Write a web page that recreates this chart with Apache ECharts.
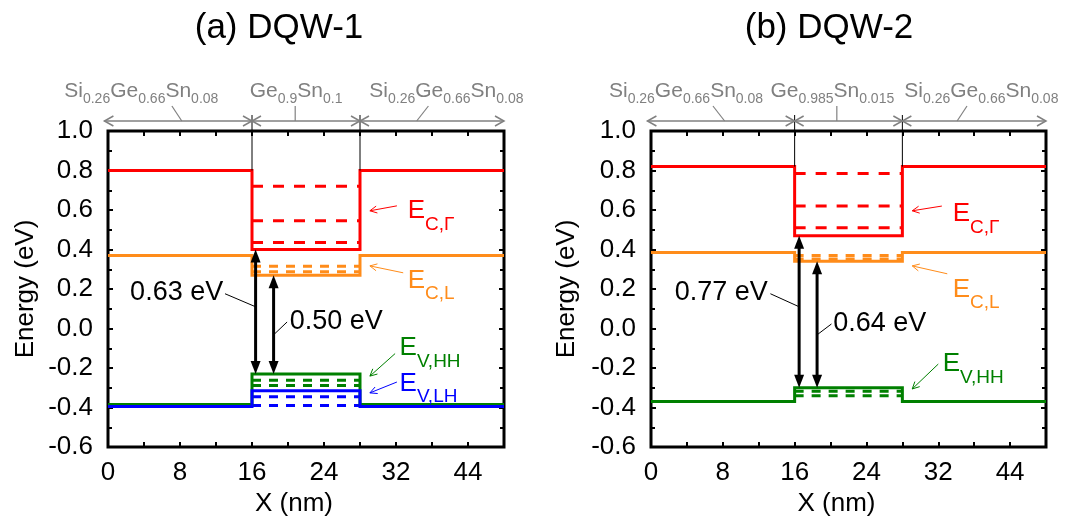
<!DOCTYPE html>
<html>
<head>
<meta charset="utf-8">
<script src="https://cdn.jsdelivr.net/npm/echarts@6/dist/echarts.min.js"></script>
<style>
html, body { margin: 0; padding: 0; background: #ffffff; }
#chart { width: 1086px; height: 522px; }
</style>
</head>
<body>
<div id="chart"></div>
<script>
// ---- data -------------------------------------------------------------
// layer boundaries along the growth direction (nm): barrier | well | barrier
const layerEdges = [0, 16, 28, 44];
const xTickLabels = ['0', '8', '16', '24', '32', '44'];

// band names (drawn as E with subscript)
const bandSubs = ['C,\u0393', 'C,L', 'V,HH', 'V,LH'];

// DQW-1: band edges in barrier / well (eV) and confined levels in the well
const dqw1BarrierE = [0.80, 0.37, -0.385, -0.395];
const dqw1WellE = [0.40, 0.27, -0.23, -0.315];
const dqw1LevelsCG = [0.72, 0.545, 0.435];
const dqw1LevelsCL = [0.315, 0.287];
const dqw1LevelsHH = [-0.262, -0.288];
const dqw1LevelsLH = [-0.345, -0.39];

// DQW-2
const dqw2BarrierE = [0.82, 0.385, -0.37];
const dqw2WellE = [0.47, 0.34, -0.30];
const dqw2LevelsCG = [0.785, 0.62, 0.51];
const dqw2LevelsCL = [0.37, 0.352];
const dqw2LevelsHH = [-0.318, -0.34];

// layer compositions: [element, fraction, element, fraction, ...]
const dqw1Layers = [
  ['Si', '0.26', 'Ge', '0.66', 'Sn', '0.08'],
  ['Ge', '0.9', 'Sn', '0.1'],
  ['Si', '0.26', 'Ge', '0.66', 'Sn', '0.08']
];
const dqw2Layers = [
  ['Si', '0.26', 'Ge', '0.66', 'Sn', '0.08'],
  ['Ge', '0.985', 'Sn', '0.015'],
  ['Si', '0.26', 'Ge', '0.66', 'Sn', '0.08']
];

const panelTitles = ['(a) DQW-1', '(b) DQW-2'];

// ---- styling ------------------------------------------------------------
const FONT = "'Liberation Sans', Arial, Helvetica, sans-serif";
const bandColors = ['#ff0000', '#ff8c1a', '#008000', '#0000ff'];
const GRAY = '#808080';

// panel annotation placement (data units of each panel)
const panelLayout = [
  {
    grid: { left: 108, top: 131, width: 396, height: 321 },
    titleX: 279,
    gapX: [16.4, 18.4],
    gapText: [
      { x: 12.8, y: 0.182, align: 'right', leader: [[13.0, 0.176], [16.4, 0.11]] },
      { x: 20.2, y: 0.033, align: 'left', leader: [[19.9, 0.033], [18.4, -0.032]] }
    ],
    bandLabel: [
      { x: 33.3, y: 0.596, from: [32.1, 0.621], to: [29.1, 0.596] },
      { x: 33.3, y: 0.242, from: [32.8, 0.282], to: [29.1, 0.317] },
      { x: 32.4, y: -0.100, from: [31.9, -0.127], to: [29.1, -0.241] },
      { x: 32.4, y: -0.278, from: [32.1, -0.271], to: [29.1, -0.326] }
    ],
    layerTextX: [3.7, 20.9, 37.6],
    layerLeader: [[7.1, 8.2], [20.8, 20.8], [35.6, 34.3]],
    spanLeft: -0.4,
    yNameGap: 69
  },
  {
    grid: { left: 651, top: 131, width: 395, height: 321 },
    titleX: 829,
    gapX: [16.5, 18.5],
    gapText: [
      { x: 13.0, y: 0.182, align: 'right', leader: [[13.3, 0.176], [16.5, 0.11]] },
      { x: 20.3, y: 0.023, align: 'left', leader: [[20.1, 0.023], [18.5, -0.032]] }
    ],
    bandLabel: [
      { x: 33.6, y: 0.58, from: [32.4, 0.62], to: [29.1, 0.596] },
      { x: 33.6, y: 0.197, from: [33.0, 0.277], to: [29.1, 0.317] },
      { x: 32.5, y: -0.18, from: [32.0, -0.18], to: [29.1, -0.306] }
    ],
    layerTextX: [3.9, 20.2, 36.8],
    layerLeader: [[6.9, 8.2], [20.7, 20.7], [35.2, 34.1]],
    spanLeft: -0.4,
    yNameGap: 71
  }
];

const panels = [
  {
    barrier: dqw1BarrierE, well: dqw1WellE,
    levels: [dqw1LevelsCG, dqw1LevelsCL, dqw1LevelsHH, dqw1LevelsLH],
    layers: dqw1Layers
  },
  {
    barrier: dqw2BarrierE, well: dqw2WellE,
    levels: [dqw2LevelsCG, dqw2LevelsCL, dqw2LevelsHH],
    layers: dqw2Layers
  }
];

// ---- helpers ------------------------------------------------------------
function profile(b, w) {
  return [
    [layerEdges[0], b], [layerEdges[1], b], [layerEdges[1], w],
    [layerEdges[2], w], [layerEdges[2], b], [layerEdges[3], b]
  ];
}
function fmtY(v) {
  if (Math.abs(v) < 1e-9) return '0.0';
  return v.toFixed(1);
}

// ---- axes / series --------------------------------------------------------
const grids = [], xAxes = [], yAxes = [], series = [];

panels.forEach(function (p, i) {
  const L = panelLayout[i];
  grids.push(Object.assign({ show: true, borderColor: '#000', borderWidth: 3, backgroundColor: 'transparent' }, L.grid));

  const tickStyle = { show: true, inside: true, length: 5, lineStyle: { color: '#000', width: 2 } };
  const noLine = { show: false, onZero: false };
  // bottom x axis with labels
  xAxes.push({
    type: 'value', gridIndex: i, min: layerEdges[0], max: layerEdges[3], interval: 4,
    position: 'bottom',
    axisLine: noLine, splitLine: { show: false }, axisTick: tickStyle,
    axisLabel: {
      margin: 13, color: '#000', fontFamily: FONT, fontSize: 26,
      showMinLabel: true, showMaxLabel: true,
      formatter: function (v) {
        const k = Math.round(v / 8);
        return (Math.abs(v - k * 8) < 1e-6 && k < xTickLabels.length) ? xTickLabels[k] : '';
      }
    },
    name: 'X (nm)', nameLocation: 'middle', nameGap: 44,
    nameTextStyle: { color: '#000', fontFamily: FONT, fontSize: 26, padding: [0, 24, 0, 0] }
  });
  // top mirror axis (ticks only)
  xAxes.push({
    type: 'value', gridIndex: i, min: layerEdges[0], max: layerEdges[3], interval: 4,
    position: 'top',
    axisLine: noLine, splitLine: { show: false }, axisTick: tickStyle,
    axisLabel: { show: false }
  });
  // left y axis
  yAxes.push({
    type: 'value', gridIndex: i, min: -0.6, max: 1.0, interval: 0.2,
    position: 'left',
    axisLine: noLine, splitLine: { show: false }, axisTick: tickStyle,
    minorTick: { show: true, splitNumber: 2, length: 4, lineStyle: { color: '#000', width: 2 } },
    axisLabel: { margin: 15, color: '#000', fontFamily: FONT, fontSize: 26, formatter: fmtY },
    name: 'Energy (eV)', nameLocation: 'middle', nameGap: L.yNameGap,
    nameTextStyle: { color: '#000', fontFamily: FONT, fontSize: 26 }
  });
  // right mirror axis
  yAxes.push({
    type: 'value', gridIndex: i, min: -0.6, max: 1.0, interval: 0.2,
    position: 'right',
    axisLine: noLine, splitLine: { show: false }, axisTick: tickStyle,
    minorTick: { show: true, splitNumber: 2, length: 4, lineStyle: { color: '#000', width: 2 } },
    axisLabel: { show: false }
  });

  const xi = i * 2, yi = i * 2;
  p.barrier.forEach(function (b, k) {
    const color = bandColors[k];
    // confined levels inside the well
    p.levels[k].forEach(function (lv) {
      series.push({
        type: 'line', xAxisIndex: xi, yAxisIndex: yi, symbol: 'none', silent: true,
        data: [[layerEdges[1], lv], [layerEdges[2], lv]],
        lineStyle: { color: color, width: 3, type: k === 0 ? [11, 10] : [9, 8], cap: 'butt' },
        z: 2
      });
    });
    // band-edge profile
    series.push({
      type: 'line', xAxisIndex: xi, yAxisIndex: yi, symbol: 'none', silent: true,
      data: profile(b, p.well[k]),
      lineStyle: { color: color, width: 3, join: 'miter', cap: 'butt' },
      z: 3
    });
  });
});

const chart = echarts.init(document.getElementById('chart'), null, { renderer: 'canvas' });
chart.setOption({
  animation: false,
  backgroundColor: '#ffffff',
  grid: grids, xAxis: xAxes, yAxis: yAxes, series: series
});

// ---- annotations (positioned through the axes) ------------------------------
const els = [];
function P(g, x, y) { return chart.convertToPixel({ gridIndex: g }, [x, y]); }
function seg(a, b, color, w) {
  els.push({ type: 'line', silent: true, z: 100,
    shape: { x1: a[0], y1: a[1], x2: b[0], y2: b[1] },
    style: { stroke: color, lineWidth: w } });
}
function head(tip, from, color, len, half, filled, w) {
  const dx = tip[0] - from[0], dy = tip[1] - from[1];
  const d = Math.hypot(dx, dy), ux = dx / d, uy = dy / d;
  const bx = tip[0] - ux * len, by = tip[1] - uy * len;
  const p1 = [bx - uy * half, by + ux * half], p2 = [bx + uy * half, by - ux * half];
  if (filled) {
    els.push({ type: 'polygon', silent: true, z: 101, shape: { points: [tip, p1, p2] }, style: { fill: color } });
  } else {
    els.push({ type: 'polyline', silent: true, z: 101, shape: { points: [p1, tip, p2] },
      style: { stroke: color, lineWidth: w, fill: null } });
  }
}
function text(x, y, str, opts) {
  els.push({ type: 'text', silent: true, z: 102, x: x, y: y,
    style: Object.assign({ text: str, fill: '#000', font: '27px ' + FONT,
      align: 'left', verticalAlign: 'middle', textAlign: 'left', textVerticalAlign: 'middle' }, opts) });
}
function richE(sub, color) {
  return {
    text: '{m|E}{s|' + sub + '}', fill: color,
    rich: {
      m: { fontSize: 26, fontFamily: FONT, fill: color, lineHeight: 30, verticalAlign: 'top' },
      s: { fontSize: 19, fontFamily: FONT, fill: color, padding: [17, 0, 0, 0], verticalAlign: 'top' }
    }
  };
}
function richLayer(parts) {
  let s = '';
  for (let j = 0; j < parts.length; j += 2) s += '{m|' + parts[j] + '}{s|' + parts[j + 1] + '}';
  return {
    text: s, fill: GRAY,
    rich: {
      m: { fontSize: 21, fontFamily: FONT, fill: GRAY, lineHeight: 24, verticalAlign: 'top' },
      s: { fontSize: 14, fontFamily: FONT, fill: GRAY, padding: [11, 0, 0, 0], verticalAlign: 'top' }
    }
  };
}

panels.forEach(function (p, i) {
  const L = panelLayout[i];
  const top = P(i, 0, 1.0)[1];

  // title
  text(L.titleX, 28, panelTitles[i], { font: '35px ' + FONT, align: 'center', textAlign: 'center' });

  // layer boundaries above the wells and composition arrows
  const arrowY = top - 10;
  [layerEdges[1], layerEdges[2]].forEach(function (xb) {
    const px = P(i, xb, 0)[0];
    seg([px, arrowY - 6], [px, P(i, xb, p.barrier[0])[1]], '#000', 1);
  });
  const spans = [[L.spanLeft, layerEdges[1]], [layerEdges[1], layerEdges[2]], [layerEdges[2], layerEdges[3]]];
  spans.forEach(function (sp, k) {
    const a = [P(i, sp[0], 0)[0], arrowY], b = [P(i, sp[1], 0)[0], arrowY];
    seg(a, b, GRAY, 1.5);
    head(a, b, GRAY, 9, 5, false, 1.5);
    head(b, a, GRAY, 9, 5, false, 1.5);
    const lx = P(i, L.layerTextX[k], 0)[0];
    const st = richLayer(p.layers[k]);
    els.push({ type: 'text', silent: true, z: 102, x: lx, y: top - 50,
      style: Object.assign(st, { align: 'center', verticalAlign: 'top', textAlign: 'center', textVerticalAlign: 'top' }) });
    const ld = L.layerLeader[k];
    seg([P(i, ld[0], 0)[0], top - 25], [P(i, ld[1], 0)[0], arrowY], GRAY, 1.2);
  });

  // band gap arrows: Gamma-well -> HH-well and L-well -> HH-well
  const hh = p.well[2];
  [p.well[0], p.well[1]].forEach(function (upper, k) {
    const x = L.gapX[k];
    const a = P(i, x, upper), b = P(i, x, hh);
    const len = 13;
    seg([a[0], a[1] + len - 1], [b[0], b[1] - len + 1], '#000', 3);
    head(a, b, '#000', len, 5, true);
    head(b, a, '#000', len, 5, true);
    const g = L.gapText[k];
    const tp = P(i, g.x, g.y);
    text(tp[0], tp[1], (upper - hh).toFixed(2) + ' eV', { align: g.align, textAlign: g.align });
    seg(P(i, g.leader[0][0], g.leader[0][1]), P(i, g.leader[1][0], g.leader[1][1]), '#000', 1);
  });

  // band labels with pointer arrows
  L.bandLabel.forEach(function (bl, k) {
    const color = bandColors[k];
    const tp = P(i, bl.x, bl.y);
    const st = richE(bandSubs[k], color);
    els.push({ type: 'text', silent: true, z: 102, x: tp[0], y: tp[1] - 13,
      style: Object.assign(st, { align: 'left', verticalAlign: 'top', textAlign: 'left', textVerticalAlign: 'top' }) });
    const f = P(i, bl.from[0], bl.from[1]), t = P(i, bl.to[0], bl.to[1]);
    seg(f, t, color, 1);
    head(t, f, color, 7, 3.5, false, 1);
  });
});

chart.setOption({ graphic: { elements: els } });
</script>
</body>
</html>
